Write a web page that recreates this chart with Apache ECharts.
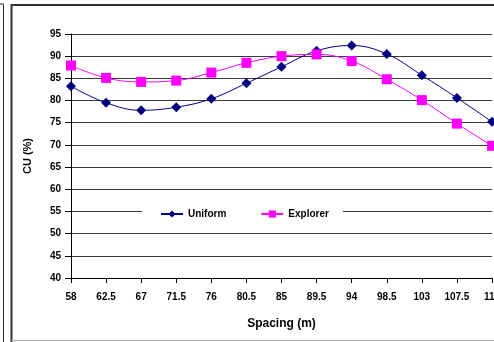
<!DOCTYPE html>
<html>
<head>
<meta charset="utf-8">
<script src="https://cdn.jsdelivr.net/npm/echarts@6/dist/echarts.min.js"></script>
<style>
html,body{margin:0;padding:0;background:#fff;}
#c{width:494px;height:342px;}
</style>
</head>
<body>
<div id="c"></div>
<script>
var categories = ['58','62.5','67','71.5','76','80.5','85','89.5','94','98.5','103','107.5','112'];
var uniform = [83.2, 79.5, 77.8, 78.5, 80.4, 83.9, 87.6, 91.2, 92.4, 90.5, 85.7, 80.6, 75.2];
var explorer = [87.9, 85.1, 84.2, 84.5, 86.3, 88.5, 90.0, 90.4, 88.9, 84.8, 80.1, 74.8, 69.8];
var yMin = 40, yMax = 95, yStep = 5;

var FONT = '"Liberation Sans", Arial, sans-serif';
var chart = echarts.init(document.getElementById('c'), null, {renderer: 'canvas'});
chart.setOption({
  animation: false,
  backgroundColor: '#fff',
  textStyle: {fontFamily: FONT},
  grid: {left: 71, right: 2, top: 34, bottom: 64, containLabel: false, outerBoundsMode: 'none'},
  legend: {
    left: 142, top: 205,
    width: 198, height: 18,
    backgroundColor: '#fff',
    padding: [4, 14, 4, 18],
    itemWidth: 22, itemHeight: 9,
    itemGap: 34,
    textStyle: {fontFamily: FONT, fontWeight: 'bold', fontSize: 10, color: '#000'},
    data: ['Uniform', 'Explorer']
  },
  xAxis: {
    type: 'category',
    data: categories,
    boundaryGap: false,
    name: 'Spacing (m)',
    nameLocation: 'middle',
    nameGap: 40,
    nameTextStyle: {fontFamily: FONT, fontWeight: 'bold', fontSize: 12, color: '#000'},
    axisLine: {lineStyle: {color: '#000', width: 1}},
    axisTick: {show: true, length: 5, alignWithLabel: true, lineStyle: {color: '#000'}},
    axisLabel: {margin: 14, fontFamily: FONT, fontWeight: 'bold', fontSize: 10, color: '#000', interval: 0, hideOverlap: false},
    splitLine: {show: false}
  },
  yAxis: {
    type: 'value',
    min: yMin, max: yMax, interval: yStep,
    name: 'CU (%)',
    nameLocation: 'middle',
    nameRotate: 90,
    nameGap: 38,
    nameTextStyle: {fontFamily: FONT, fontWeight: 'bold', fontSize: 11, color: '#000'},
    axisLine: {show: true, lineStyle: {color: '#000', width: 1}},
    axisTick: {show: true, length: 6, lineStyle: {color: '#000'}},
    axisLabel: {margin: 10, fontFamily: FONT, fontWeight: 'bold', fontSize: 10, color: '#000'},
    splitLine: {show: true, lineStyle: {color: '#3a3a3a', width: 1.2}}
  },
  series: [
    {
      name: 'Uniform', type: 'line', data: uniform, smooth: 0.4,
      symbol: 'diamond', symbolSize: 10,
      lineStyle: {color: '#000080', width: 1},
      itemStyle: {color: '#000080'}
    },
    {
      name: 'Explorer', type: 'line', data: explorer, smooth: 0.4,
      symbol: 'rect', symbolSize: 10,
      lineStyle: {color: '#ff00ff', width: 1},
      itemStyle: {color: '#ff00ff'}
    }
  ],
  graphic: [
    {type: 'line', shape: {x1: 3.5, y1: 4, x2: 3.5, y2: 342}, style: {stroke: '#333', lineWidth: 1}},
    {type: 'line', shape: {x1: 0, y1: 4, x2: 3.5, y2: 4}, style: {stroke: '#333', lineWidth: 1}},
    {type: 'line', shape: {x1: 11.5, y1: 5, x2: 494, y2: 5}, style: {stroke: '#333', lineWidth: 2}},
    {type: 'line', shape: {x1: 11.5, y1: 4, x2: 11.5, y2: 342}, style: {stroke: '#333', lineWidth: 2}},
    {type: 'line', shape: {x1: 11.5, y1: 340.5, x2: 494, y2: 340.5}, style: {stroke: '#aaa', lineWidth: 1}}
  ]
});
</script>
</body>
</html>
